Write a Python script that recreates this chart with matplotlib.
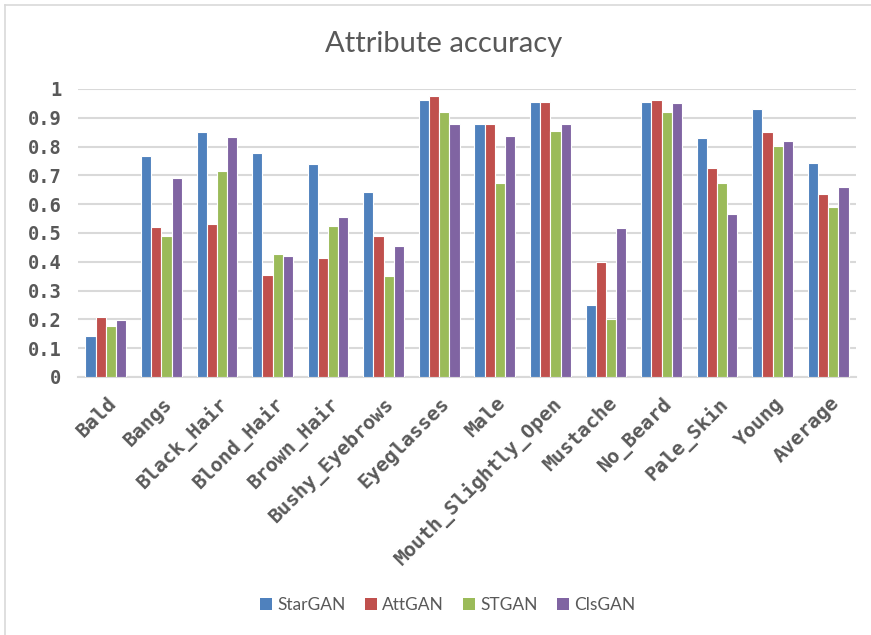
import numpy as np
import matplotlib
matplotlib.use("Agg")
import matplotlib.pyplot as plt
from matplotlib.transforms import ScaledTranslation
from matplotlib.lines import Line2D
from matplotlib.patches import Patch

categories = ["Bald", "Bangs", "Black_Hair", "Blond_Hair", "Brown_Hair",
              "Bushy_Eyebrows", "Eyeglasses", "Male", "Mouth_Slightly_Open",
              "Mustache", "No_Beard", "Pale_Skin", "Young", "Average"]

stargan = [0.142, 0.766, 0.850, 0.779, 0.738, 0.643, 0.961, 0.880, 0.956,
           0.249, 0.956, 0.831, 0.932, 0.742]
attgan = [0.208, 0.520, 0.532, 0.355, 0.413, 0.490, 0.975, 0.880, 0.956,
          0.401, 0.961, 0.726, 0.850, 0.637]
stgan = [0.178, 0.490, 0.714, 0.427, 0.526, 0.349, 0.920, 0.673, 0.855,
         0.201, 0.920, 0.673, 0.801, 0.591]
clsgan = [0.197, 0.691, 0.832, 0.420, 0.555, 0.454, 0.879, 0.838, 0.880,
          0.519, 0.950, 0.566, 0.820, 0.660]

series_names = ["StarGAN", "AttGAN", "STGAN", "ClsGAN"]
series_values = [stargan, attgan, stgan, clsgan]
colors = ["#4F81BD", "#C0504D", "#9BBB59", "#8064A2"]
yticks = [0, 0.1, 0.2, 0.3, 0.4, 0.5, 0.6, 0.7, 0.8, 0.9, 1]
ytick_labels = ["0", "0.1", "0.2", "0.3", "0.4", "0.5", "0.6", "0.7", "0.8", "0.9", "1"]

W, H = 871, 635
text_grey = "#595959"
grid_grey = "#D9D9D9"
mono = ["DejaVu Sans Mono"]
sans = ["Lato", "Open Sans", "DejaVu Sans"]

fig = plt.figure(figsize=(W / 100, H / 100), dpi=100)
fig.patch.set_facecolor("white")

# chart area frame
fig.add_artist(Line2D([5 / W, 5 / W], [0, 1 - 5 / H], color=grid_grey, lw=1.2,
                      transform=fig.transFigure))
fig.add_artist(Line2D([5 / W, 1], [1 - 5 / H, 1 - 5 / H], color=grid_grey, lw=1.2,
                      transform=fig.transFigure))

left, right, top, bottom = 78, 856, 89, 377
ax = fig.add_axes([left / W, 1 - bottom / H, (right - left) / W, (bottom - top) / H])

x = np.arange(len(categories))
bw = 0.1836
for i, (vals, c, name) in enumerate(zip(series_values, colors, series_names)):
    ax.bar(x + (i - 1.5) * bw, vals, width=bw, color=c, edgecolor="white",
           linewidth=0.8, label=name, zorder=3)

ax.set_xlim(-0.5, len(categories) - 0.5)
ax.set_ylim(0, 1)
ax.set_yticks(yticks)
ax.set_yticklabels(ytick_labels, family=mono, weight="bold", fontsize=13.5,
                   color=text_grey)
ax.yaxis.grid(True, color=grid_grey, lw=1.5, zorder=0)
ax.tick_params(axis="both", length=0)
ax.tick_params(axis="y", pad=12)
for s in ["top", "right", "left"]:
    ax.spines[s].set_visible(False)
ax.spines["bottom"].set_color(grid_grey)
ax.spines["bottom"].set_linewidth(1.5)

ax.set_xticks(x)
ax.set_xticklabels(categories, family=mono, weight="bold", fontsize=14.3,
                   color=text_grey, rotation=45, ha="right", va="top",
                   rotation_mode="anchor")
ax.tick_params(axis="x", pad=12)
offset = ScaledTranslation(1 / 100, 0, fig.dpi_scale_trans)
for lab in ax.get_xticklabels():
    lab.set_transform(lab.get_transform() + offset)

fig.text(444 / W, 1 - 44 / H, "Attribute accuracy", family=sans, fontsize=21,
         color=text_grey, ha="center", va="center")

handles = [Patch(facecolor=c, edgecolor="none") for c in colors]
fig.legend(handles, series_names, loc="center", ncol=4,
           bbox_to_anchor=(448 / W, 1 - 605 / H), frameon=False,
           prop={"family": sans, "size": 12.5}, labelcolor=text_grey,
           handlelength=0.7, handleheight=0.7, handletextpad=0.3,
           columnspacing=1.1)

fig.savefig("out.png", dpi=100, facecolor="white")
